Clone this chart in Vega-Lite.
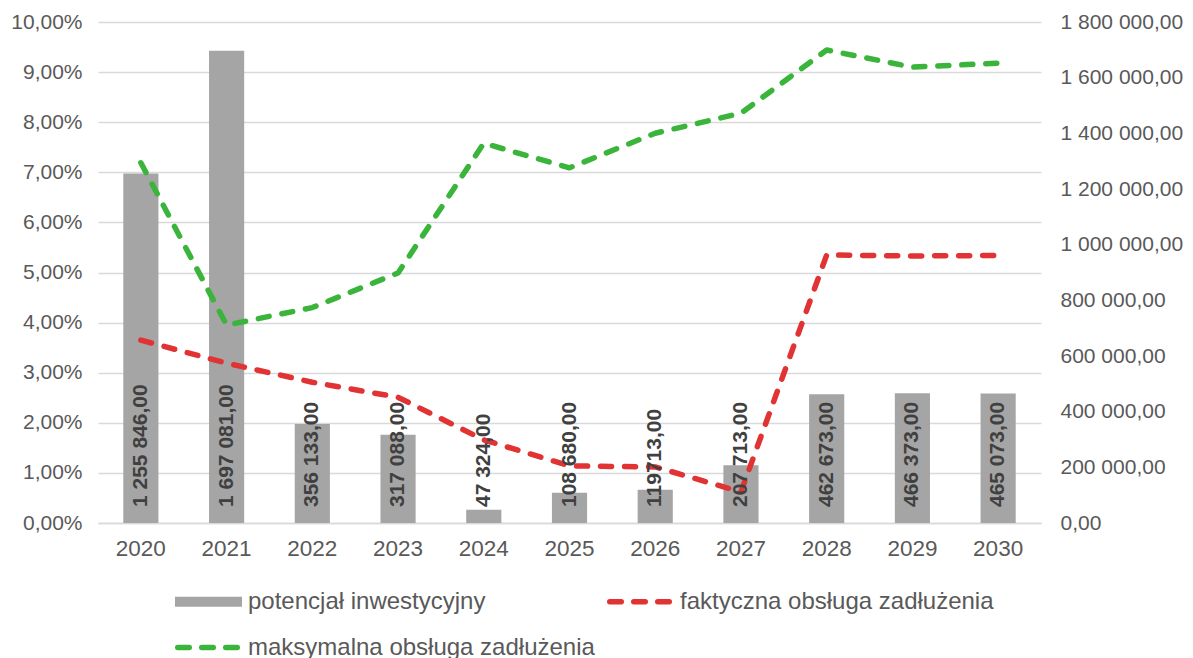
{
  "$schema": "https://vega.github.io/schema/vega-lite/v6.json",
  "width": 943,
  "height": 501,
  "autosize": "none",
  "padding": {"left": 98, "top": 22, "right": 152, "bottom": 135},
  "background": "white",
  "datasets": {
    "bars": [
      {"rok": "2020", "seria": "potencjał inwestycyjny", "potencjal": 1255846, "etykieta": "1 255 846,00"},
      {"rok": "2021", "seria": "potencjał inwestycyjny", "potencjal": 1697081, "etykieta": "1 697 081,00"},
      {"rok": "2022", "seria": "potencjał inwestycyjny", "potencjal": 356133, "etykieta": "356 133,00"},
      {"rok": "2023", "seria": "potencjał inwestycyjny", "potencjal": 317088, "etykieta": "317 088,00"},
      {"rok": "2024", "seria": "potencjał inwestycyjny", "potencjal": 47324, "etykieta": "47 324,00"},
      {"rok": "2025", "seria": "potencjał inwestycyjny", "potencjal": 108680, "etykieta": "108 680,00"},
      {"rok": "2026", "seria": "potencjał inwestycyjny", "potencjal": 119713, "etykieta": "119713,00"},
      {"rok": "2027", "seria": "potencjał inwestycyjny", "potencjal": 207713, "etykieta": "207 713,00"},
      {"rok": "2028", "seria": "potencjał inwestycyjny", "potencjal": 462673, "etykieta": "462 673,00"},
      {"rok": "2029", "seria": "potencjał inwestycyjny", "potencjal": 466373, "etykieta": "466 373,00"},
      {"rok": "2030", "seria": "potencjał inwestycyjny", "potencjal": 465073, "etykieta": "465 073,00"}
    ],
    "lines": [
      {"rok": "2020", "seria": "faktyczna obsługa zadłużenia", "wartosc": 0.0365},
      {"rok": "2021", "seria": "faktyczna obsługa zadłużenia", "wartosc": 0.0319},
      {"rok": "2022", "seria": "faktyczna obsługa zadłużenia", "wartosc": 0.0281},
      {"rok": "2023", "seria": "faktyczna obsługa zadłużenia", "wartosc": 0.0251},
      {"rok": "2024", "seria": "faktyczna obsługa zadłużenia", "wartosc": 0.0166},
      {"rok": "2025", "seria": "faktyczna obsługa zadłużenia", "wartosc": 0.0114},
      {"rok": "2026", "seria": "faktyczna obsługa zadłużenia", "wartosc": 0.0112},
      {"rok": "2027", "seria": "faktyczna obsługa zadłużenia", "wartosc": 0.0062},
      {"rok": "2028", "seria": "faktyczna obsługa zadłużenia", "wartosc": 0.0535},
      {"rok": "2029", "seria": "faktyczna obsługa zadłużenia", "wartosc": 0.0533},
      {"rok": "2030", "seria": "faktyczna obsługa zadłużenia", "wartosc": 0.0534},
      {"rok": "2020", "seria": "maksymalna obsługa zadłużenia", "wartosc": 0.0719},
      {"rok": "2021", "seria": "maksymalna obsługa zadłużenia", "wartosc": 0.0395},
      {"rok": "2022", "seria": "maksymalna obsługa zadłużenia", "wartosc": 0.0430},
      {"rok": "2023", "seria": "maksymalna obsługa zadłużenia", "wartosc": 0.0499},
      {"rok": "2024", "seria": "maksymalna obsługa zadłużenia", "wartosc": 0.0758},
      {"rok": "2025", "seria": "maksymalna obsługa zadłużenia", "wartosc": 0.0709},
      {"rok": "2026", "seria": "maksymalna obsługa zadłużenia", "wartosc": 0.0778},
      {"rok": "2027", "seria": "maksymalna obsługa zadłużenia", "wartosc": 0.0818},
      {"rok": "2028", "seria": "maksymalna obsługa zadłużenia", "wartosc": 0.0944},
      {"rok": "2029", "seria": "maksymalna obsługa zadłużenia", "wartosc": 0.0910},
      {"rok": "2030", "seria": "maksymalna obsługa zadłużenia", "wartosc": 0.0918}
    ]
  },
  "encoding": {
    "x": {
      "field": "rok",
      "type": "ordinal",
      "scale": {"type": "band", "paddingInner": 0, "paddingOuter": 0},
      "axis": {
        "title": null,
        "labelAngle": 0,
        "labelFontSize": 22.5,
        "labelColor": "#595959",
        "labelPadding": 14,
        "ticks": false,
        "domainColor": "#d9d9d9",
        "domainWidth": 1.5
      }
    }
  },
  "layer": [
    {
      "data": {"name": "bars"},
      "mark": {"type": "bar", "width": {"band": 0.41}},
      "encoding": {
        "y": {
          "field": "potencjal",
          "type": "quantitative",
          "scale": {"domain": [0, 1800000], "nice": false},
          "axis": {
            "orient": "right",
            "title": null,
            "values": [0, 200000, 400000, 600000, 800000, 1000000, 1200000, 1400000, 1600000, 1800000],
            "format": ",.2f",
            "labelFontSize": 21,
            "labelColor": "#595959",
            "labelPadding": 19,
            "ticks": false,
            "domain": false,
            "grid": false
          }
        },
        "color": {
          "field": "seria",
          "type": "nominal",
          "scale": {
            "domain": ["potencjał inwestycyjny", "faktyczna obsługa zadłużenia", "maksymalna obsługa zadłużenia"],
            "range": ["#a5a5a5", "#e13333", "#3bb43b"]
          },
          "legend": {
            "title": null,
            "orient": "none",
            "legendX": 77,
            "legendY": 546,
            "columns": 2,
            "direction": "horizontal",
            "columnPadding": 3,
            "rowPadding": 0,
            "padding": 0,
            "labelFontSize": 24,
            "labelColor": "#595959",
            "labelOffset": 6,
            "labelLimit": 0,
            "symbolSize": 3782,
            "symbolStrokeWidth": 5.5,
            "symbolOpacity": 1,
            "encode": {
              "symbols": {
                "update": {
                  "shape": {"signal": "datum.value === 'potencjał inwestycyjny' ? 'M-1.09,-0.163H1.09V0.163H-1.09Z' : 'M-1,0H1'"},
                  "fill": {"signal": "datum.value === 'potencjał inwestycyjny' ? '#a5a5a5' : 'transparent'"},
                  "stroke": {"signal": "datum.value === 'potencjał inwestycyjny' ? 'transparent' : (datum.value === 'faktyczna obsługa zadłużenia' ? '#e13333' : '#3bb43b')"},
                  "strokeOpacity": {"signal": "datum.value === 'potencjał inwestycyjny' ? 0 : 1"},
                  "strokeWidth": {"value": 5.5},
                  "strokeCap": {"value": "round"},
                  "strokeDash": {"value": [11.5, 12.5]},
                  "opacity": {"value": 1}
                }
              }
            }
          }
        }
      }
    },
    {
      "data": {"name": "lines"},
      "mark": {"type": "line", "strokeWidth": 5.5, "strokeCap": "round", "strokeJoin": "round", "strokeDash": [11, 13]},
      "encoding": {
        "y": {
          "field": "wartosc",
          "type": "quantitative",
          "scale": {"domain": [0, 0.1], "nice": false},
          "axis": {
            "orient": "left",
            "title": null,
            "values": [0, 0.01, 0.02, 0.03, 0.04, 0.05, 0.06, 0.07, 0.08, 0.09, 0.1],
            "format": ".2%",
            "labelFontSize": 21,
            "labelColor": "#595959",
            "labelPadding": 16,
            "ticks": false,
            "domain": false,
            "grid": true,
            "gridColor": "#d9d9d9",
            "gridWidth": 1.5,
            "zindex": 0
          }
        },
        "color": {"field": "seria", "type": "nominal"},
        "detail": {"field": "seria"}
      }
    },
    {
      "data": {"name": "bars"},
      "mark": {"type": "text", "angle": 270, "align": "left", "baseline": "middle", "dx": 16, "fontSize": 21, "fontWeight": "bold", "color": "#404040"},
      "encoding": {
        "y": {"datum": 0, "type": "quantitative", "scale": {"domain": [0, 1800000], "nice": false}, "axis": null},
        "text": {"field": "etykieta"}
      }
    }
  ],
  "resolve": {"scale": {"y": "independent"}},
  "config": {
    "font": "Liberation Sans",
    "view": {"stroke": null},
    "locale": {"number": {"decimal": ",", "thousands": " ", "grouping": [3], "currency": ["", " zł"]}}
  }
}
